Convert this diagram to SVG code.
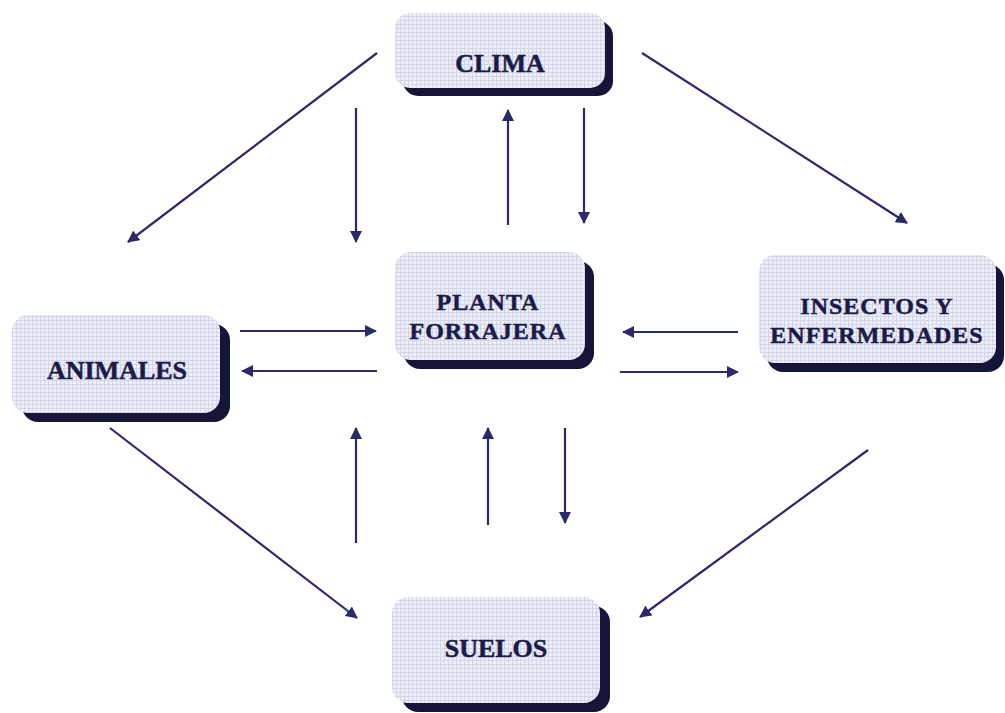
<svg xmlns="http://www.w3.org/2000/svg" width="1005" height="713" viewBox="0 0 1005 713">
<defs>
<pattern id="grid" width="4" height="4" patternUnits="userSpaceOnUse">
<rect width="4" height="4" fill="#eceef8"/>
<path d="M0 0.5H4M0.5 0V4" stroke="#d3d6ea" stroke-width="1"/>
</pattern>
<marker id="ah" viewBox="0 0 12 12" refX="11" refY="6" markerWidth="12" markerHeight="12" markerUnits="userSpaceOnUse" orient="auto">
<path d="M0 0L12 6L0 12Z" fill="#2a2a6a"/>
</marker>
</defs>
<style>
.sh{fill:#15153a}
.bx{fill:url(#grid)}
.t{font-family:"Liberation Serif","Times New Roman",serif;font-weight:bold;font-size:26px;fill:#1b1b48;stroke:#1b1b48;stroke-width:0.5;text-anchor:middle}
.t2{font-size:24px;letter-spacing:1px}
.c line{stroke:#2a2a6a;stroke-width:2.2;marker-end:url(#ah)}
</style>
<rect width="1005" height="713" fill="#ffffff"/>
<g id="clima">
<rect class="sh" x="403" y="21" width="210" height="75" rx="15"/>
<rect class="bx" x="395" y="13" width="210" height="75" rx="15"/>
<text class="t" x="500" y="72">CLIMA</text>
</g>
<g id="planta">
<rect class="sh" x="404" y="261" width="190" height="108" rx="16"/>
<rect class="bx" x="395" y="252" width="190" height="108" rx="16"/>
<text class="t t2" x="488" y="310">PLANTA</text>
<text class="t t2" x="488" y="339">FORRAJERA</text>
</g>
<g id="animales">
<rect class="sh" x="22" y="324" width="208" height="98" rx="16"/>
<rect class="bx" x="12" y="315" width="208" height="98" rx="16"/>
<text class="t" x="117" y="379">ANIMALES</text>
</g>
<g id="insectos">
<rect class="sh" x="767" y="264" width="237" height="108" rx="16"/>
<rect class="bx" x="759" y="255" width="237" height="108" rx="16"/>
<text class="t t2" x="877" y="314">INSECTOS Y</text>
<text class="t t2" x="877" y="343">ENFERMEDADES</text>
</g>
<g id="suelos">
<rect class="sh" x="402" y="606" width="208" height="106" rx="16"/>
<rect class="bx" x="392" y="597" width="208" height="106" rx="16"/>
<text class="t" x="496" y="657">SUELOS</text>
</g>
<g id="connectors" class="c">
<line x1="377" y1="53" x2="128" y2="242"/>
<line x1="642" y1="53" x2="907" y2="223"/>
<line x1="356" y1="108" x2="356" y2="242"/>
<line x1="508" y1="225" x2="508" y2="110"/>
<line x1="584" y1="108" x2="584" y2="223"/>
<line x1="240" y1="331" x2="376" y2="331"/>
<line x1="377" y1="371" x2="242" y2="371"/>
<line x1="738" y1="332" x2="623" y2="332"/>
<line x1="620" y1="372" x2="738" y2="372"/>
<line x1="356" y1="543" x2="356" y2="428"/>
<line x1="488" y1="525" x2="488" y2="428"/>
<line x1="565" y1="428" x2="565" y2="523"/>
<line x1="110" y1="428" x2="357" y2="618"/>
<line x1="868" y1="450" x2="640" y2="617"/>
</g>
</svg>
